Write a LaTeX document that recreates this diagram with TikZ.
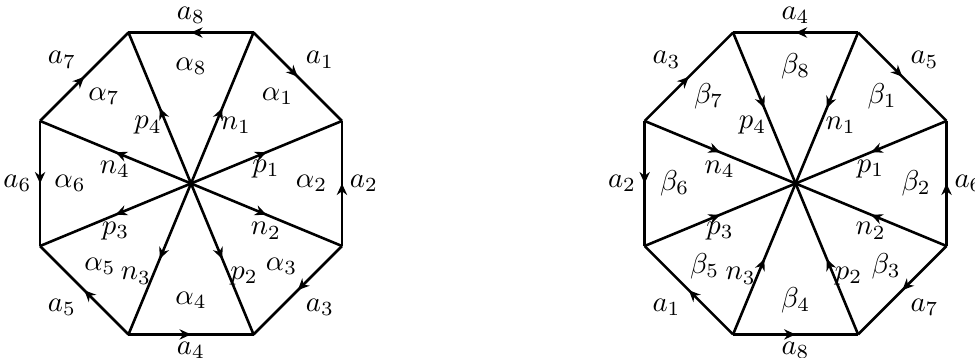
\documentclass[tikz,border=0pt]{standalone}
\usetikzlibrary{arrows.meta,decorations.markings}
\tikzset{
  edgeline/.style={line width=0.9pt, line join=round, postaction={decorate},
    decoration={markings, mark=at position 0.5 with {\arrow{Stealth[length=4pt,width=3.6pt,inset=1.3pt]}}}},
  lbl/.style={inner sep=1pt},
}
\begin{document}
\begin{tikzpicture}
\useasboundingbox (-2.338,-2.136) rectangle (9.596,2.246);
\foreach \P/\X in {L/0,R/7.4} {
  \coordinate (\P o) at (\X,0);
  \foreach \k in {1,...,8} {
    \path (\P o) ++({67.5-45*(\k-1)}:2) coordinate (\P v\k);
  }
  \foreach \s/\e in {1/8,1/2,3/2,3/4,5/4,5/6,7/6,7/8} {
    \draw[edgeline] (\P v\s) -- (\P v\e);
  }
}
\foreach \k in {1,...,8} {
  \draw[edgeline] (Lo) -- (Lv\k);
  \draw[edgeline] (Rv\k) -- (Ro);
}
% edge labels
\foreach \P/\X/\la/\lb/\lc/\ld/\le/\lf/\lg/\lh in {L/0/8/1/2/3/4/5/6/7, R/7.4/4/5/6/7/8/1/2/3} {
  \node[lbl] (\P ea) at (\X,2.062) {$a_{\la}$};
  \node[lbl] (\P eb) at (\X+1.579,1.512) {$a_{\lb}$};
  \node[lbl] (\P ec) at (\X+2.117,0) {$a_{\lc}$};
  \node[lbl] (\P ed) at (\X+1.579,-1.512) {$a_{\ld}$};
  \node[lbl] (\P ee) at (\X,-2.038) {$a_{\le}$};
  \node[lbl] (\P ef) at (\X-1.579,-1.512) {$a_{\lf}$};
  \node[lbl] (\P eg) at (\X-2.124,0) {$a_{\lg}$};
  \node[lbl] (\P eh) at (\X-1.579,1.512) {$a_{\lh}$};
}
% spoke and face labels
\foreach \P/\X/\g in {L/0/\alpha, R/7.4/\beta} {
  \node[lbl] (\P p1) at (\X+0.918,0.177) {$p_1$};
  \node[lbl] (\P n1) at (\X+0.551,0.716) {$n_1$};
  \node[lbl] (\P p4) at (\X-0.526,0.71) {$p_4$};
  \node[lbl] (\P n4) at (\X-0.93,0.177) {$n_4$};
  \node[lbl] (\P p3) at (\X-0.924,-0.581) {$p_3$};
  \node[lbl] (\P n3) at (\X-0.673,-1.132) {$n_3$};
  \node[lbl] (\P p2) at (\X+0.649,-1.132) {$p_2$};
  \node[lbl] (\P n2) at (\X+0.918,-0.581) {$n_2$};
  \node[lbl] (\P f1) at (\X+1.06,1.065) {$\g_1$};
  \node[lbl] (\P f2) at (\X+1.475,0) {$\g_2$};
  \node[lbl] (\P f3) at (\X+1.108,-1.016) {$\g_3$};
  \node[lbl] (\P f4) at (\X,-1.426) {$\g_4$};
  \node[lbl] (\P f5) at (\X-1.114,-1.016) {$\g_5$};
  \node[lbl] (\P f6) at (\X-1.48,0) {$\g_6$};
  \node[lbl] (\P f7) at (\X-1.065,1.065) {$\g_7$};
  \node[lbl] (\P f8) at (\X,1.438) {$\g_8$};
}
\end{tikzpicture}
\end{document}
